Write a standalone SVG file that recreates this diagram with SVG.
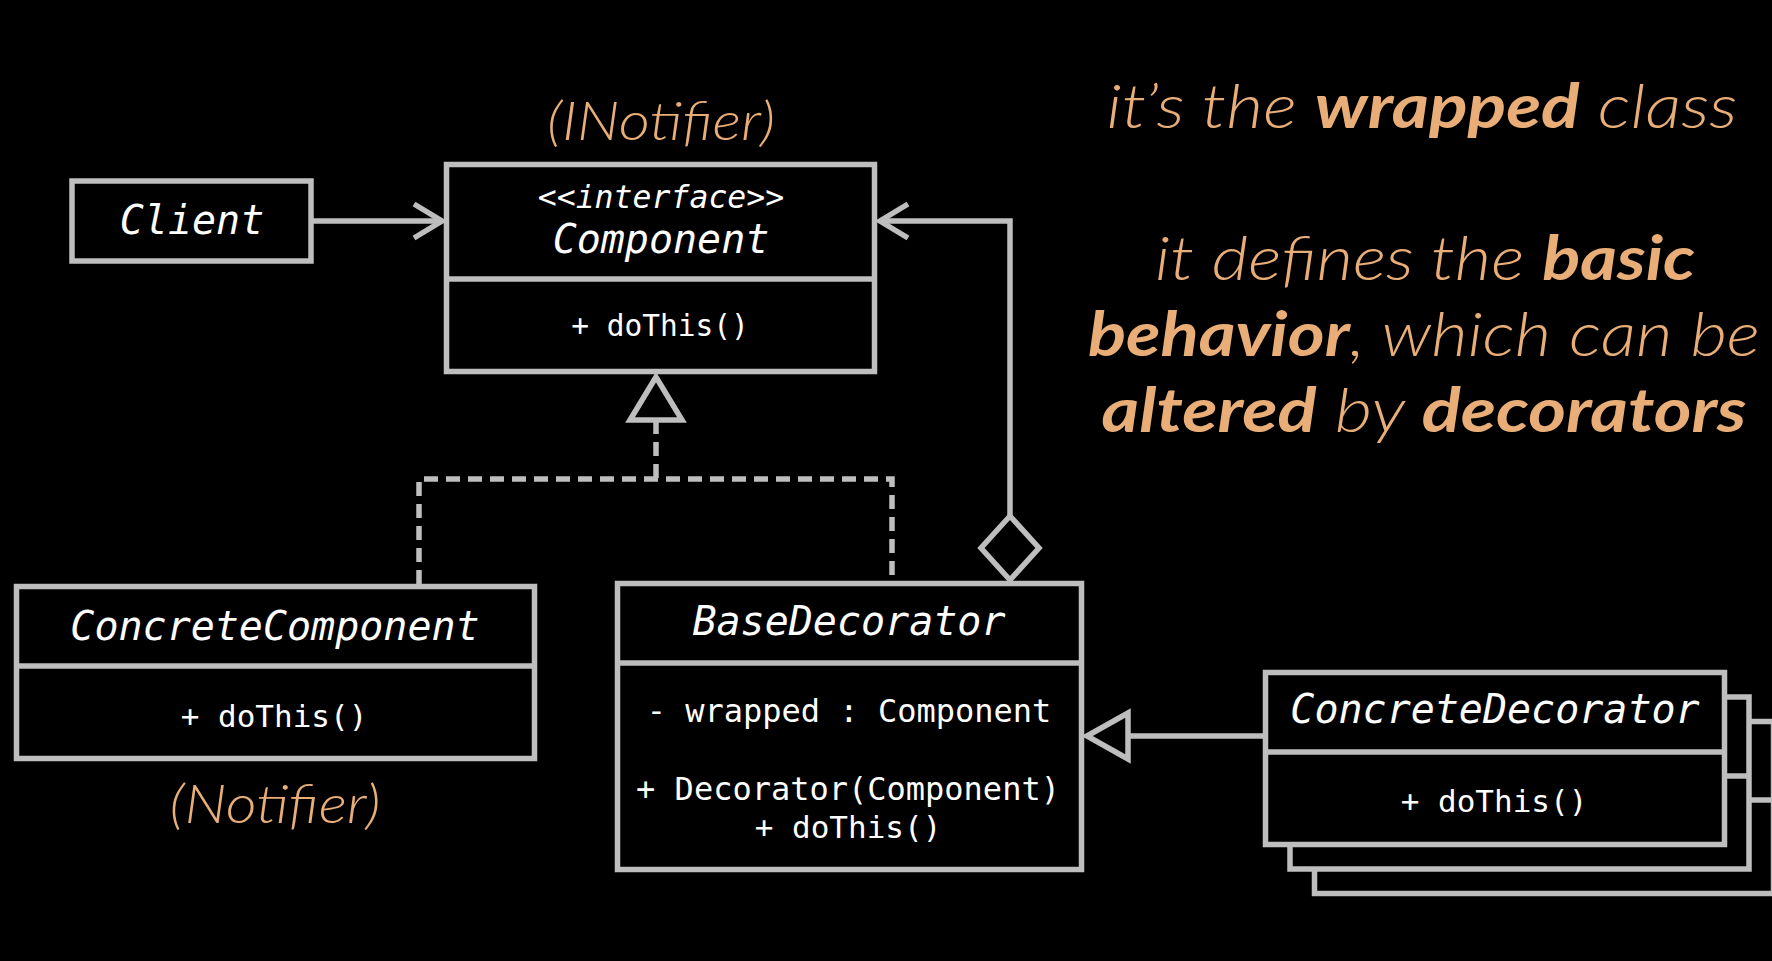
<svg xmlns="http://www.w3.org/2000/svg" width="1772" height="961" viewBox="0 0 1772 961">
<style>
.box{fill:#000;stroke:#BEBEBE;stroke-width:5.5}
.ln{fill:none;stroke:#BEBEBE;stroke-width:5.5}
.dash{fill:none;stroke:#BEBEBE;stroke-width:5.5;stroke-dasharray:14 8}
.hd{fill:#000;stroke:#BEBEBE;stroke-width:5.5;stroke-linejoin:miter}
.t{font-family:"DejaVu Sans Mono","Liberation Mono",monospace;fill:#FFFFFF;text-anchor:middle;font-style:italic;font-size:40px}
.m{font-family:"DejaVu Sans Mono","Liberation Mono",monospace;fill:#FFFFFF;text-anchor:middle;font-size:31px}
.o{font-family:Lato,"Open Sans",sans-serif;fill:#E9AE77;font-style:italic;font-weight:300;text-anchor:middle}
.b{font-weight:700}
</style>
<rect width="1772" height="961" fill="#000"/>
<g id="connectors">
<path class="ln" d="M313,221 H442"/>
<polyline class="ln" points="414,204 442,221 414,238"/>
<path class="ln" d="M1010,516 V221 H880"/>
<polyline class="ln" points="908,204 880,221 908,238"/>
<polygon class="hd" points="1010,516 1039,548 1010,580 981,548"/>
<path class="dash" d="M419,584 V479 H892 V582"/>
<path class="dash" d="M656,420 V479"/>
<polygon class="hd" points="656,377 630,420 682,420"/>
<path class="ln" d="M1263,736 H1128"/>
<polygon class="hd" points="1087,736 1128,713 1128,759"/>
</g>
<g id="client">
<rect class="box" x="72" y="181" width="239" height="80"/>
<text class="t" x="192" y="234">Client</text>
</g>
<g id="component">
<rect class="box" x="446.5" y="164.5" width="428" height="207"/>
<path class="ln" d="M446.5,279 H874.5"/>
<text class="t" x="661" y="208" style="font-size:31.5px">&lt;&lt;interface&gt;&gt;</text>
<text class="t" x="661" y="253">Component</text>
<text class="m" x="660" y="336" style="font-size:29.5px">+ doThis()</text>
</g>
<g id="concreteComponent">
<rect class="box" x="16.5" y="586.5" width="518" height="172"/>
<path class="ln" d="M16.5,666 H534.5"/>
<text class="t" x="275" y="640">ConcreteComponent</text>
<text class="m" x="274" y="727">+ doThis()</text>
</g>
<g id="baseDecorator">
<rect class="box" x="617.5" y="583.5" width="464" height="286"/>
<path class="ln" d="M617.5,663 H1081.5"/>
<text class="t" x="849" y="635">BaseDecorator</text>
<text class="m" x="849" y="722" style="font-size:32px">- wrapped : Component</text>
<text class="m" x="848" y="800" style="font-size:32px">+ Decorator(Component)</text>
<text class="m" x="848" y="838">+ doThis()</text>
</g>
<g id="concreteDecorator">
<rect class="box" x="1314.5" y="721.5" width="459" height="172"/>
<path class="ln" d="M1314.5,800 H1773.5"/>
<rect class="box" x="1290" y="697" width="459" height="172"/>
<path class="ln" d="M1290,776 H1749"/>
<rect class="box" x="1265.5" y="672.5" width="459" height="172"/>
<path class="ln" d="M1265.5,752 H1724.5"/>
<text class="t" x="1495" y="723">ConcreteDecorator</text>
<text class="m" x="1494" y="812">+ doThis()</text>
</g>
<g id="labels">
<text class="o" x="661" y="140" style="font-size:54px" textLength="228" lengthAdjust="spacingAndGlyphs">(INotifier)</text>
<text class="o" x="275" y="823" style="font-size:54px" textLength="211" lengthAdjust="spacingAndGlyphs">(Notifier)</text>
<text class="o" x="1422" y="128" style="font-size:62px" textLength="631" lengthAdjust="spacingAndGlyphs">it’s the <tspan class="b">wrapped</tspan> class</text>
<text class="o" x="1425" y="280" style="font-size:62px" textLength="540" lengthAdjust="spacingAndGlyphs">it defines the <tspan class="b">basic</tspan></text>
<text class="o" x="1424" y="356" style="font-size:62px" textLength="672" lengthAdjust="spacingAndGlyphs"><tspan class="b">behavior</tspan>, which can be</text>
<text class="o" x="1424" y="432" style="font-size:62px" textLength="645" lengthAdjust="spacingAndGlyphs"><tspan class="b">altered</tspan> by <tspan class="b">decorators</tspan></text>
</g>
</svg>
